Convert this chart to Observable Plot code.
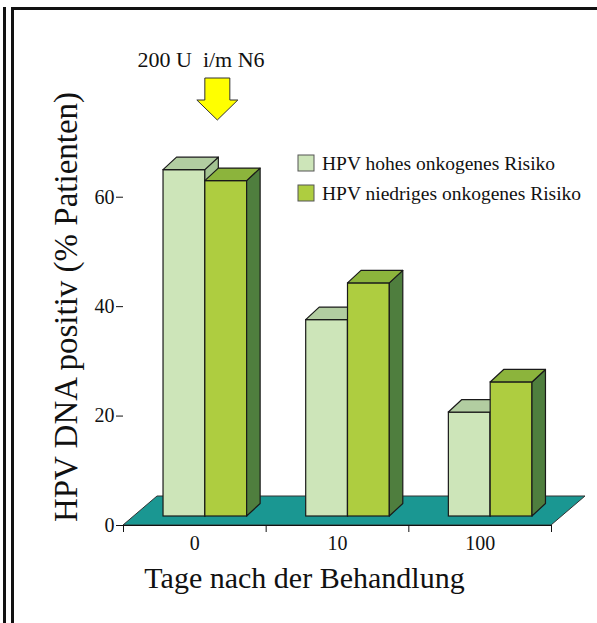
<!DOCTYPE html>
<html><head><meta charset="utf-8">
<script src="https://cdn.jsdelivr.net/npm/d3@7"></script>
<script src="https://cdn.jsdelivr.net/npm/@observablehq/plot@0.6"></script>
<style>
html,body{margin:0;padding:0;background:#fff;}
#wrap{position:relative;width:597px;height:623px;overflow:hidden;background:#fff;}
.ln{position:absolute;background:#111;}
#chart{position:absolute;left:0;top:0;}
#chart svg text{white-space:pre;}
</style></head><body>
<div id="wrap">
 <div id="chart"></div>
 <div class="ln" style="left:3px;top:7px;width:3px;height:616px"></div>
 <div class="ln" style="left:11px;top:7px;width:3px;height:616px"></div>
 <div class="ln" style="left:11px;top:7px;width:586px;height:3px"></div>
</div>
<script>
// ---- data ----
const days = ["0", "10", "100"];
const seriesNames = ["HPV hohes onkogenes Risiko", "HPV niedriges onkogenes Risiko"];
const highRisk = [63.3, 35.9, 19.0];
const lowRisk = [61.3, 42.6, 24.5];
const yTicks = [0, 20, 40, 60];
const yLabel = "HPV DNA positiv (% Patienten)";
const xLabel = "Tage nach der Behandlung";
const annotation = "200 U\u00a0 i/m N6";

// ---- styling ----
const frontColors = ["#cde5b9", "#aecd40"];
const topColors = ["#b2cda1", "#8cb43c"];
const sideColors = ["#a3c391", "#4f7e3e"];
const floorColor = "#1a9792";
const edge = "#1a1a1a";
const inset = 0.207, bw = 0.293;      // bar placement within a day band
const shift = [10.5, -9];             // bars stand a little back on the floor
const depth = [13.5, -12.5];          // bar depth
const floorDepth = [34, -29];
const serif = "'Liberation Serif','Times New Roman',serif";

const rows = days.flatMap((d, i) => [
  {day: d, gi: i, s: 0, value: highRisk[i]},
  {day: d, gi: i, s: 1, value: lowRisk[i]}
]);

function pts(p) { return "M" + p.map(q => q.join(",")).join("L") + "Z"; }

function floorMark(index, scales) {
  const {x, y} = scales;
  const g = d3.create("svg:g");
  const y0 = y(0), xa = x(0), xb = x(days.length);
  g.append("path")
    .attr("d", pts([[xa, y0], [xb, y0], [xb + floorDepth[0], y0 + floorDepth[1]], [xa + floorDepth[0], y0 + floorDepth[1]]]))
    .attr("fill", floorColor).attr("stroke", "#333").attr("stroke-width", 1);
  return g.node();
}

function facesMark(s) {
  return function(index, scales) {
    const {x, y} = scales;
    const g = d3.create("svg:g").attr("stroke", edge).attr("stroke-width", 1.2).attr("stroke-linejoin", "round");
    for (const r of rows.filter(r => r.s === s)) {
      const fx0 = x(r.gi + inset + s * bw) + shift[0];
      const fx1 = x(r.gi + inset + (s + 1) * bw) + shift[0];
      const fy0 = y(0) + shift[1];
      const fy1 = y(r.value) + shift[1];
      const [dx, dy] = depth;
      g.append("path").attr("d", pts([[fx1, fy0], [fx1, fy1], [fx1 + dx, fy1 + dy], [fx1 + dx, fy0 + dy]])).attr("fill", sideColors[s]);
      g.append("path").attr("d", pts([[fx0, fy1], [fx1, fy1], [fx1 + dx, fy1 + dy], [fx0 + dx, fy1 + dy]])).attr("fill", topColors[s]);
    }
    return g.node();
  };
}

function frontMark(s) {
  return Plot.rect(rows.filter(r => r.s === s), {
    x1: r => r.gi + inset + s * bw,
    x2: r => r.gi + inset + (s + 1) * bw,
    y1: 0, y2: "value",
    dx: shift[0], dy: shift[1],
    fill: frontColors[s], stroke: edge, strokeWidth: 1.2
  });
}

function arrowMark(index, scales, values, dims) {
  const {x} = scales;
  const cx = x(0.5) + 23;
  const top = dims.marginTop - 64;
  const g = d3.create("svg:g");
  g.append("path")
    .attr("d", pts([[cx - 12.5, top], [cx + 12.5, top], [cx + 12.5, top + 22], [cx + 20.5, top + 22], [cx, top + 42], [cx - 20.5, top + 22], [cx - 12.5, top + 22]]))
    .attr("fill", "#ffff00").attr("stroke", "#333").attr("stroke-width", 1);
  return g.node();
}

function legendMark(index, scales, values, dims) {
  const g = d3.create("svg:g");
  const lx = 298, ly = [163, 193];
  seriesNames.forEach((name, i) => {
    g.append("rect").attr("x", lx).attr("y", ly[i] - 8).attr("width", 16).attr("height", 16)
      .attr("fill", frontColors[i]).attr("stroke", "#555").attr("stroke-width", 1);
    g.append("text").attr("x", lx + 24).attr("y", ly[i]).attr("dy", "0.34em")
      .attr("text-anchor", "start")
      .attr("font-size", 19.5).attr("font-family", serif).attr("fill", "#111").text(name);
  });
  return g.node();
}

const chart = Plot.plot({
  width: 597, height: 623,
  marginLeft: 123, marginRight: 46, marginTop: 142, marginBottom: 98,
  style: {fontFamily: serif, fontSize: "20px", color: "#111", background: "transparent"},
  x: {domain: [0, days.length], ticks: d3.range(days.length + 1), tickFormat: () => "", tickSize: 7, label: null},
  y: {domain: [0, 70], ticks: yTicks, tickSize: 7, tickPadding: 2, label: null},
  marks: [
    floorMark,
    Plot.ruleY([0], {stroke: "#111", strokeWidth: 1.2}),
    frontMark(0), facesMark(0),
    frontMark(1), facesMark(1),
    Plot.text(days, {x: (d, i) => i + 0.5, frameAnchor: "bottom", lineAnchor: "middle", dy: 18, fontSize: 20, fill: "#111"}),
    Plot.text([xLabel], {frameAnchor: "bottom", lineAnchor: "middle", textAnchor: "middle", dx: -33, dy: 53, fontSize: 30, fill: "#111"}),
    Plot.text([yLabel], {frameAnchor: "left", textAnchor: "middle", lineAnchor: "middle", rotate: -90, dx: -56.6, dy: -27, fontSize: 33, fill: "#111"}),
    Plot.text([annotation], {frameAnchor: "top-left", textAnchor: "start", lineAnchor: "middle", dx: 14, dy: -83, fontSize: 22, fill: "#111"}),
    arrowMark,
    legendMark
  ]
});
document.getElementById("chart").appendChild(chart);
</script>
</body></html>
